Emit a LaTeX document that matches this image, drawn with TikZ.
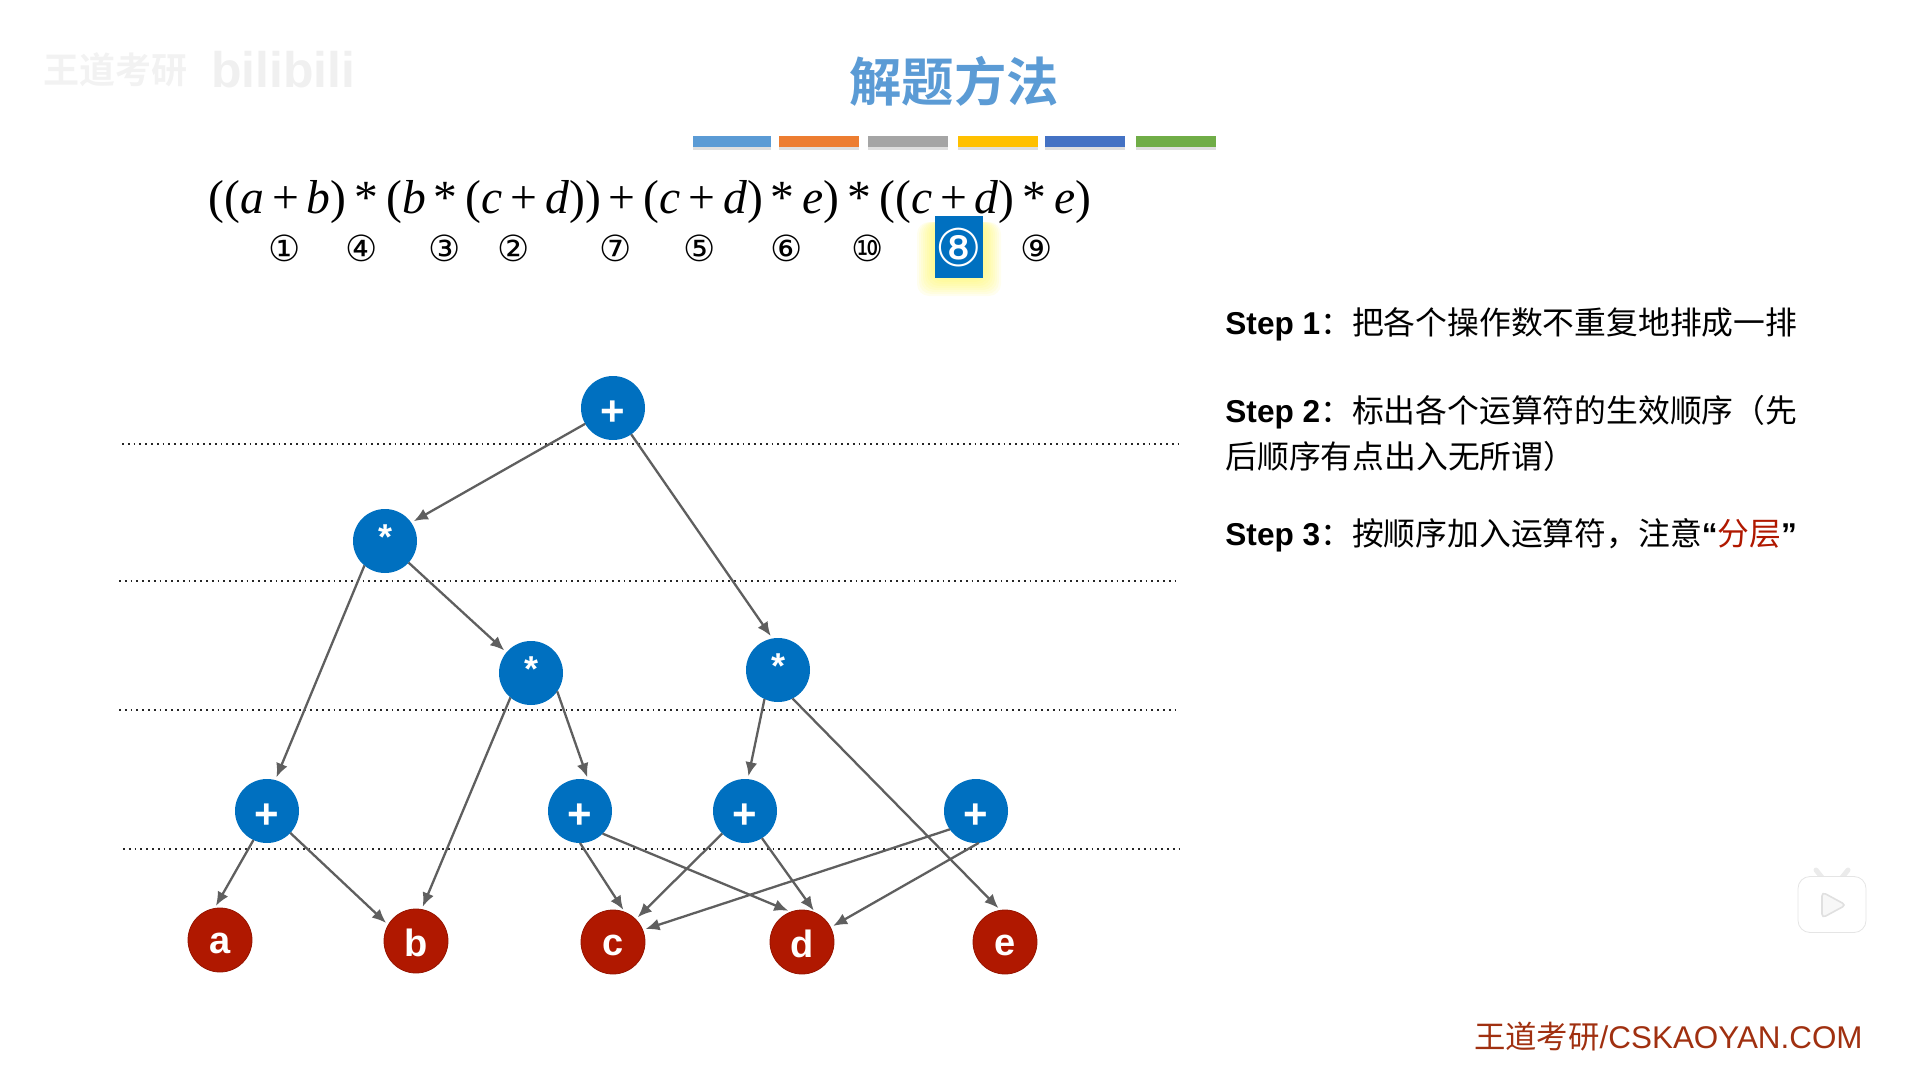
\documentclass[tikz,border=0pt]{standalone}
\usepackage{fontspec}
\usepackage{xcolor}
\usepackage{tikz}
\usetikzlibrary{arrows.meta,positioning,shadows}
\setmainfont{Liberation Sans}
\newfontfamily\cjk{Noto Sans CJK SC}
\newfontfamily\cjkb{Noto Sans CJK SC Bold}
\newfontfamily\timesf{Liberation Serif}
\newfontfamily\dejavu{DejaVu Sans}
\newcommand{\zh}[1]{{\mdseries\cjk\fontsize{15.9}{23}\selectfont #1}}
\newcommand{\nudge}[2]{\raisebox{#1}[\height][\depth]{#2}}
\definecolor{opblue}{HTML}{0070C0}
\definecolor{valred}{HTML}{B01800}
\definecolor{edgegray}{HTML}{5F5F5F}
\definecolor{titleblue}{HTML}{5B9BD5}
\definecolor{footred}{HTML}{A03010}
\definecolor{barorange}{HTML}{ED7D31}
\definecolor{bargray}{HTML}{A5A5A5}
\definecolor{baryellow}{HTML}{FFC000}
\definecolor{barblue}{HTML}{4472C4}
\definecolor{bargreen}{HTML}{70AD47}
\tikzset{
  opnode/.style={circle, fill=opblue, text=white, minimum size=32pt, inner sep=0pt, outer sep=0pt, font=\bfseries\fontsize{21}{21}\selectfont},
  mulnode/.style={opnode, font=\bfseries\fontsize{18}{18}\selectfont},
  valnode/.style={circle, fill=valred, draw=valred!85!black, text=white, minimum size=32pt, inner sep=0pt, outer sep=0pt, font=\bfseries\fontsize{19}{19}\selectfont},
  line/.style={-{Latex[length=7pt,width=6pt]}, edgegray, line width=1.15pt, shorten >=1.5pt},
  layer/.style={dash pattern=on .9pt off 2pt, line width=1pt, black!85},
  colorbar/.style={minimum width=40pt, minimum height=5.2pt, inner sep=0pt, outer sep=0pt, drop shadow={shadow xshift=0pt, shadow yshift=-1.5pt, opacity=.25}},
  order/.style={inner sep=0pt, font=\dejavu\fontsize{18}{18}\selectfont},
  steptext/.style={anchor=west, align=left, inner sep=0pt, font=\bfseries\fontsize{15.8}{23}\selectfont}
}
\begin{document}
\begin{tikzpicture}[x=.5pt,y=-.5pt]
  \useasboundingbox (0,0) rectangle (1906,1065);
  % faint watermark
  \node[text=black!5, font=\cjkb\fontsize{18}{18}\selectfont] (wm) at (115,70) {王道考研};
  \node[text=black!6, font=\bfseries\fontsize{25}{25}\selectfont, right=5pt of wm] (bili) {bilibili};

  \node[text=titleblue, font=\cjkb\fontsize{26.2}{27}\selectfont] (title) at (954,81) {解题方法};
  \node[colorbar, fill=titleblue, minimum width=39pt] (c1) at (732,141.5) {};
  \node[colorbar, fill=barorange, right=4pt of c1] (c2) {};
  \node[colorbar, fill=bargray, right=4.5pt of c2] (c3) {};
  \node[colorbar, fill=baryellow, right=5pt of c3] (c4) {};
  \node[colorbar, fill=barblue, right=3.5pt of c4] (c5) {};
  \node[colorbar, fill=bargreen, right=5.5pt of c5] (c6) {};

  \node[font=\timesf\fontsize{23.8}{24}\selectfont, inner sep=0pt] (expr) at (650,202)
    {((\textit{a}\,+\,\textit{b})\,*\,(\textit{b}\,*\,(\textit{c}\,+\,\textit{d}))\,+\,(\textit{c}\,+\,\textit{d})\,*\,\textit{e})\,*\,((\textit{c}\,+\,\textit{d})\,*\,\textit{e})};

  % glow behind the current step
  \foreach \g in {18,16,14,12,10,8,6,4,2}
    \fill[yellow!70, opacity=.09, rounded corners=6pt] (935-\g,222) rectangle (983+\g,278+\g);
  \node[fill=opblue, minimum width=24pt, minimum height=31pt, inner sep=0pt] (cur) at (959,247) {};
  \node[order, text=white, font=\dejavu\fontsize{26}{26}\selectfont] (n8) at (959,248) {⑧};

  \node[order] (n1) at (285,248) {①};
  \node[order] (n4) at (362,248) {④};
  \node[order] (n3) at (445,248) {③};
  \node[order] (n2) at (514,248) {②};
  \node[order] (n7) at (616,248) {⑦};
  \node[order] (n5) at (700,248) {⑤};
  \node[order] (n6) at (787,248) {⑥};
  \node[order] (n10) at (868,248) {⑩};
  \node[order] (n9) at (1037,248) {⑨};

  \coordinate (l1a) at (122,444);  \coordinate (l1b) at (1178,444);
  \coordinate (l2a) at (119,581);  \coordinate (l2b) at (1176,581);
  \coordinate (l3a) at (119,710);  \coordinate (l3b) at (1176,710);
  \coordinate (l4a) at (123,849);  \coordinate (l4b) at (1180,849);
  \draw[layer] (l1a) -- (l1b);
  \draw[layer] (l2a) -- (l2b);
  \draw[layer] (l3a) -- (l3b);
  \draw[layer] (l4a) -- (l4b);

  \node[opnode] (root) at (613,408) {\nudge{-2.4pt}{+}};
  \node[mulnode] (mula) at (385,541) {\nudge{1.8pt}{*}};
  \node[mulnode] (mulb) at (531,673) {\nudge{1.8pt}{*}};
  \node[mulnode] (mulc) at (778,670) {\nudge{1.8pt}{*}};
  \node[opnode] (plusa) at (267,811) {\nudge{-2.4pt}{+}};
  \node[opnode] (plusb) at (580,811) {\nudge{-2.4pt}{+}};
  \node[opnode] (plusc) at (745,811) {\nudge{-2.4pt}{+}};
  \node[opnode] (plusd) at (976,811) {\nudge{-2.4pt}{+}};
  \node[valnode] (a) at (220,940) {\nudge{-1.5pt}{a}};
  \node[valnode] (b) at (416,941) {\nudge{-.8pt}{b}};
  \node[valnode] (c) at (613,942) {\nudge{-1.5pt}{c}};
  \node[valnode] (d) at (802,942) {\nudge{-.8pt}{d}};
  \node[valnode] (e) at (1005,942) {\nudge{-1.5pt}{e}};

  \draw[line] (root) -- (mula.35);
  \draw[line] (root) -- (mulc.100);
  \draw[line] (mula.-130) -- (plusa.75);
  \draw[line] (mula) -- (mulb.140);
  \draw[line] (mulb.-130) -- (b.80);
  \draw[line] (mulb.-35) -- (plusb.75);
  \draw[line] (mulc.-115) -- (plusc.85);
  \draw[line] (mulc.-63) -- (e.98);
  \draw[line] (plusa.-115) -- (a.100);
  \draw[line] (plusa) -- (b.150);
  \draw[line] (plusb.south) -- (c.68);
  \draw[line] (plusb.-45) -- (d.110);
  \draw[line] (plusc) -- (c.45);
  \draw[line] (plusc.-58) -- (d.65);
  \draw[line] (plusd.215) -- (c.22);
  \draw[line] (plusd.-85) -- (d.27);

  \node[steptext] (s1) at (1225,324) {Step 1\zh{：把各个操作数不重复地排成一排}};
  \node[steptext] (s2) at (1225,433) {Step 2\zh{：标出各个运算符的生效顺序（先}\\\zh{后顺序有点出入无所谓）}};
  \node[steptext] (s3) at (1225,535) {Step 3\zh{：按顺序加入运算符，注意}“\textcolor{valred}{\zh{分层}}”};

  \node[text=footred, font=\fontsize{15.7}{16}\selectfont, anchor=east, inner sep=0pt] (foot) at (1863,1037) {{\cjk 王道考研}/CSKAOYAN.COM};

  % faint player badge
  \draw[black!8, line width=2.5pt, line cap=round] (1816,870) -- (1824,880) (1848,870) -- (1840,880);
  \node[draw=black!10, fill=white, rounded corners=6pt, minimum width=34pt, minimum height=28pt, inner sep=0pt] (tv) at (1832,904.5) {};
  \draw[black!12, fill=black!3, line width=.8pt, rounded corners=2pt] (1822,892) -- (1846,905) -- (1822,918) -- cycle;
\end{tikzpicture}
\end{document}
